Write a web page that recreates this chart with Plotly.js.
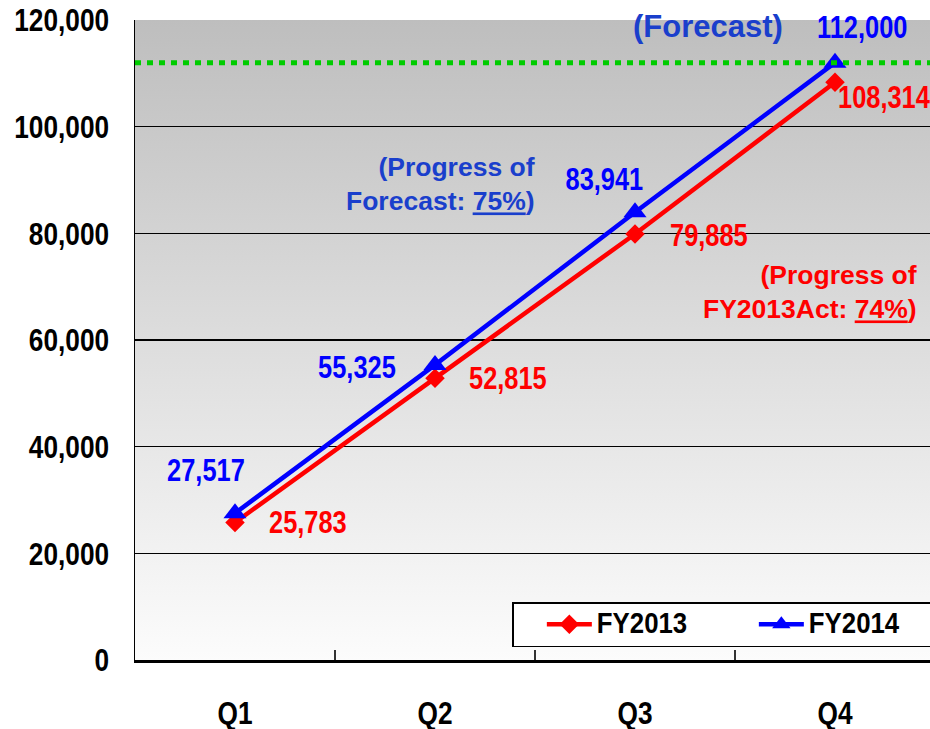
<!DOCTYPE html>
<html>
<head>
<meta charset="utf-8">
<script src="https://cdn.plot.ly/plotly-3.0.1.min.js"></script>
<style>
  html, body { margin: 0; padding: 0; background: #ffffff; }
  #chart { width: 930px; height: 729px; }
</style>
</head>
<body>
<div id="chart"></div>
<script>
// ---- data ----
const categories = ['Q1', 'Q2', 'Q3', 'Q4'];
const fy2013 = [25783, 52815, 79885, 108314];
const fy2014 = [27517, 55325, 83941, 112000];
const forecastValue = 112000;
const seriesNames = ['FY2013', 'FY2014'];
const forecastNote = '(Forecast)';
const progressForecastNote = '(Progress of<br>Forecast: <u>75%</u>)';
const progressActNote = '(Progress of<br>FY2013Act: <u>74%</u>)';

// ---- styling ----
const FONT = '"Liberation Sans", Arial, sans-serif';
const RED = '#ff0000';
const BLUE = '#0000ff';
const NOTE_BLUE = '#1a3fcc';
const CONDENSE = 0.82;          // emulate a narrow bold face
const LEGEND_FONT = 22;
const LEGEND_SY = 30 / LEGEND_FONT;

// label offsets [xshift, yshift, xanchor]
const off2013 = [[32, 0, 'left'], [32, 0, 'left'], [33, -2, 'left'], [1, -15, 'left']];
const off2014 = [[12, 43, 'right'], [-37, -3, 'right'], [-31, 33, 'center'], [27, 35, 'center']];

const fmt = v => v.toLocaleString('en-US');

const traces = [
  {
    x: categories, y: fy2013, name: seriesNames[0], type: 'scatter', mode: 'lines+markers',
    line: { color: RED, width: 4.5 },
    marker: { symbol: 'diamond', size: 15, color: RED }
  },
  {
    x: categories, y: fy2014, name: seriesNames[1], type: 'scatter', mode: 'lines+markers',
    line: { color: BLUE, width: 4.5 },
    marker: { symbol: 'triangle-up', size: 20, color: BLUE }
  }
];

const annotations = [];
categories.forEach((c, i) => {
  annotations.push({
    x: c, y: fy2013[i], xref: 'x', yref: 'y', text: fmt(fy2013[i]), showarrow: false,
    xanchor: off2013[i][2], align: off2013[i][2], yanchor: 'middle',
    xshift: off2013[i][0], yshift: off2013[i][1],
    font: { family: FONT, size: 31, color: RED, weight: 'bold' }
  });
  annotations.push({
    x: c, y: fy2014[i], xref: 'x', yref: 'y', text: fmt(fy2014[i]), showarrow: false,
    xanchor: off2014[i][2], align: off2014[i][2], yanchor: 'middle',
    xshift: off2014[i][0], yshift: off2014[i][1],
    font: { family: FONT, size: 31, color: BLUE, weight: 'bold' }
  });
});
const nDataLabels = annotations.length;
annotations.push({
  xref: 'paper', yref: 'paper', x: (708 - 135) / 795, y: (660 - 26) / 640, text: forecastNote,
  showarrow: false, xanchor: 'center', yanchor: 'middle',
  font: { family: FONT, size: 31, color: NOTE_BLUE, weight: 'bold' }
});
annotations.push({
  xref: 'paper', yref: 'paper', x: (537 - 135) / 795, y: (660 - 184) / 640, text: progressForecastNote,
  showarrow: false, xanchor: 'right', yanchor: 'middle', align: 'right',
  font: { family: FONT, size: 26.5, color: NOTE_BLUE, weight: 'bold' }
});
annotations.push({
  xref: 'paper', yref: 'paper', x: (919 - 135) / 795, y: (660 - 292) / 640, text: progressActNote,
  showarrow: false, xanchor: 'right', yanchor: 'middle', align: 'right',
  font: { family: FONT, size: 26.5, color: RED, weight: 'bold' }
});

const gradSvg = '<svg xmlns="http://www.w3.org/2000/svg" width="10" height="100" preserveAspectRatio="none">' +
  '<defs><linearGradient id="g" x1="0" y1="0" x2="0" y2="1">' +
  '<stop offset="0" stop-color="#bebebe"/><stop offset="1" stop-color="#fcfcfc"/>' +
  '</linearGradient></defs><rect width="10" height="100" fill="url(#g)"/></svg>';

const layout = {
  width: 930, height: 729,
  margin: { l: 135, r: 0, t: 20, b: 69, autoexpand: false },
  paper_bgcolor: '#ffffff',
  plot_bgcolor: 'rgba(0,0,0,0)',
  showlegend: true,
  hovermode: false,
  images: [{
    source: 'data:image/svg+xml;charset=utf-8,' + encodeURIComponent(gradSvg),
    xref: 'paper', yref: 'paper', x: 0, y: 1, sizex: 1, sizey: 1,
    xanchor: 'left', yanchor: 'top', sizing: 'stretch', layer: 'below'
  }],
  xaxis: {
    type: 'category', range: [-0.5, 3.475],
    showgrid: false, zeroline: false,
    showline: true, linecolor: '#000000', linewidth: 2.5,
    ticks: 'inside', tickson: 'boundaries', ticklen: 10, tickwidth: 1.5, tickcolor: '#333333',
    ticklabelstandoff: 23,
    tickfont: { family: FONT, size: 32, color: '#000000', weight: 'bold' }
  },
  yaxis: {
    range: [0, 120000], dtick: 20000, tickformat: ',d',
    showgrid: true, gridcolor: '#000000', gridwidth: 1.2,
    zeroline: false,
    showline: true, linecolor: '#000000', linewidth: 1.5,
    ticks: 'inside', ticklen: 8, tickwidth: 1.5, tickcolor: '#000000',
    ticklabelstandoff: 18,
    tickfont: { family: FONT, size: 32, color: '#000000', weight: 'bold' }
  },
  shapes: [{
    type: 'line', xref: 'paper', yref: 'y', x0: 0, x1: 1, y0: forecastValue, y1: forecastValue,
    line: { color: '#00cc00', width: 5, dash: '6px,6px' }, layer: 'above'
  }],
  legend: {
    orientation: 'h', x: (512 - 135) / 795, y: (660 - 602) / 640, xanchor: 'left', yanchor: 'top',
    bgcolor: '#ffffff', bordercolor: '#000000', borderwidth: 1.5,
    itemwidth: 45, entrywidth: 152,
    title: { text: '\u00a0\u00a0\u00a0', side: 'left', font: { family: FONT, size: LEGEND_FONT } },
    font: { family: FONT, size: LEGEND_FONT, color: '#000000', weight: 'bold' },
    tracegroupgap: 0
  },
  annotations: annotations
};

function rescale(el, sx, sy) {
  const x = parseFloat(el.getAttribute('x')) || 0;
  const y = parseFloat(el.getAttribute('y')) || 0;
  const tr = el.getAttribute('transform') || '';
  el.setAttribute('transform', tr + ' translate(' + x + ',' + y + ') scale(' + sx + ',' + sy + ') translate(' + (-x) + ',' + (-y) + ')');
}

Plotly.newPlot('chart', traces, layout, { staticPlot: true, displayModeBar: false }).then(gd => {
  gd.querySelectorAll('.xtick text, .ytick text').forEach(el => rescale(el, CONDENSE, 1));
  gd.querySelectorAll('text.legendtext').forEach(el => rescale(el, 0.86 * LEGEND_SY, LEGEND_SY));
  for (let i = 0; i < nDataLabels; i++) {
    gd.querySelectorAll('g.annotation[data-index="' + i + '"] text.annotation-text').forEach(el => rescale(el, CONDENSE, 1));
  }
});
</script>
</body>
</html>
